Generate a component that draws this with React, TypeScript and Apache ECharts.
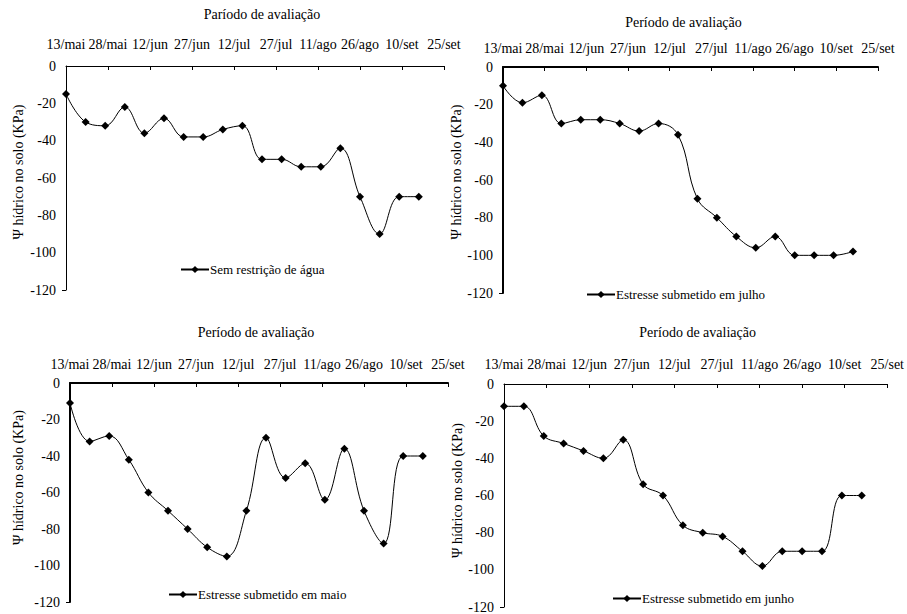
import React, { useEffect, useRef } from "react";
import * as echarts from "echarts";

// Tick labels of the top (date) axis, one every 15 days starting 13/mai
const tickLabels = ["13/mai", "28/mai", "12/jun", "27/jun", "12/jul", "27/jul", "11/ago", "26/ago", "10/set", "25/set"];

// Sampling days (days after 13/mai), weekly readings
const sampleDays = [0, 7, 14, 21, 28, 35, 42, 49, 56, 63, 70, 77, 84, 91, 98, 105, 112, 119, 126];

// Soil water potential (KPa)
const semRestricao = [-15, -30, -32, -22, -36, -28, -38, -38, -34, -32, -50, -50, -54, -54, -44, -70, -90, -70, -70];
const estresseJulho = [-10, -19, -15, -30, -28, -28, -30, -34, -30, -36, -70, -80, -90, -96, -90, -100, -100, -100, -98];
const estresseMaio = [-11, -32, -29, -42, -60, -70, -80, -90, -95, -70, -30, -52, -44, -64, -36, -70, -88, -40, -40];
const estresseJunho = [-12, -12, -28, -32, -36, -40, -30, -54, -60, -76, -80, -82, -90, -98, -90, -90, -90, -60, -60];

const seriesNames = [
  "Sem restrição de água",
  "Estresse submetido em julho",
  "Estresse submetido em maio",
  "Estresse submetido em junho",
];
const seriesValues = [semRestricao, estresseJulho, estresseMaio, estresseJunho];
const xTitles = ["Paríodo de avaliação", "Período de avaliação", "Período de avaliação", "Período de avaliação"];
const yTitle = "Ψ hídrico no solo (KPa)";

const FONT = "Liberation Serif";

// layout for each panel
const layout = [
  { grid: { left: 66, top: 66, width: 378, height: 224 }, lw: 1, labelMargin: 15, titleGap: 45, titleShift: 7, yGap: 41, yShift: 6, legend: { left: 180, top: 263 } },
  { grid: { left: 503, top: 67, width: 375, height: 226 }, lw: 2, labelMargin: 12, titleGap: 38, titleShift: -7, yGap: 39, yShift: 8, legend: { left: 586, top: 288 } },
  { grid: { left: 70, top: 383, width: 378, height: 219 }, lw: 2, labelMargin: 12, titleGap: 44, titleShift: -3, yGap: 45, yShift: 15, legend: { left: 168, top: 588 } },
  { grid: { left: 504, top: 384, width: 384, height: 226 }, lw: 1, labelMargin: 13, titleGap: 45, titleShift: 2, yGap: 40, yShift: 5, legend: { left: 612, top: 592 } },
];

export default function App() {
  const ref = useRef<HTMLDivElement>(null);
  useEffect(() => {
    if (!ref.current) return;
    const chart = echarts.init(ref.current, null, { renderer: "svg" });
    const textBase = { color: "#000", fontFamily: FONT, fontSize: 14 };
    const option: any = {
      animation: false,
      backgroundColor: "#fff",
      textStyle: { fontFamily: FONT },
      grid: layout.map((l) => ({ ...l.grid, containLabel: false })),
      xAxis: layout.map((l, i) => ({
        gridIndex: i,
        type: "value",
        position: "top",
        min: 0,
        max: 135,
        interval: 15,
        name: xTitles[i],
        nameLocation: "middle",
        nameGap: l.titleGap,
        nameTextStyle: {
          color: "#000",
          fontFamily: FONT,
          fontSize: 14,
          padding: l.titleShift >= 0 ? [0, 0, 0, 2 * l.titleShift] : [0, -2 * l.titleShift, 0, 0],
        },
        axisLine: { show: true, onZero: false, lineStyle: { color: "#000", width: l.lw } },
        axisTick: { show: true, inside: true, length: 4, lineStyle: { color: "#000", width: 1 } },
        axisLabel: {
          ...textBase,
          margin: l.labelMargin,
          formatter: (v: number) => tickLabels[Math.round(v / 15)] ?? "",
        },
        splitLine: { show: false },
      })),
      yAxis: layout.map((l, i) => ({
        gridIndex: i,
        type: "value",
        min: -120,
        max: 0,
        interval: 20,
        name: yTitle,
        nameLocation: "middle",
        nameRotate: 90,
        nameGap: l.yGap,
        nameTextStyle: { color: "#000", fontFamily: FONT, fontSize: 14, padding: [0, 0, 0, 2 * l.yShift] },
        axisLine: { show: true, onZero: false, lineStyle: { color: "#000", width: l.lw } },
        axisTick: { show: true, customValues: [-120], length: 4, lineStyle: { color: "#000", width: 1 } },
        axisLabel: { ...textBase, margin: 10 },
        splitLine: { show: false },
      })),
      legend: layout.map((l, i) => ({
        data: [seriesNames[i]],
        left: l.legend.left,
        top: l.legend.top,
        itemWidth: 28,
        itemHeight: 9,
        padding: 0,
        textStyle: { color: "#000", fontFamily: FONT, fontSize: 13, padding: [0, 0, 0, -4] },
      })),
      series: seriesValues.map((vals, i) => ({
        name: seriesNames[i],
        type: "line",
        xAxisIndex: i,
        yAxisIndex: i,
        data: sampleDays.map((d, j) => [d, vals[j]]),
        smooth: 0.4,
        symbol: "diamond",
        symbolSize: 8,
        lineStyle: { color: "#000", width: 1 },
        itemStyle: { color: "#000" },
      })),
    };
    chart.setOption(option);
    return () => chart.dispose();
  }, []);
  return (
    <div
      ref={ref}
      style={{ position: "absolute", left: 0, top: 0, width: 907, height: 614, background: "#fff" }}
    />
  );
}
